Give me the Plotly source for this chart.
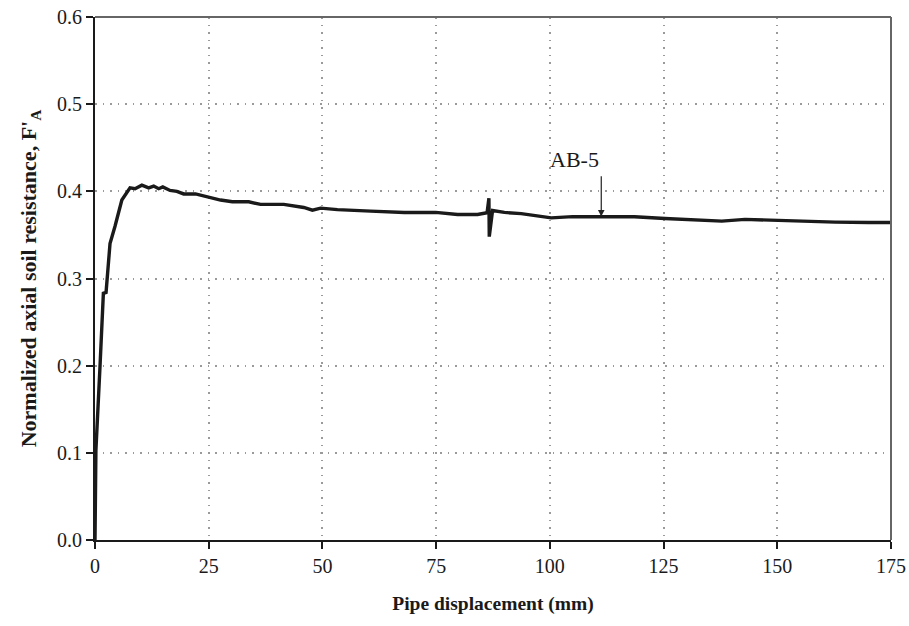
import plotly.graph_objects as go

# Load-displacement record for test AB-5
displacement_mm = [
    0.0, 0.2, 1.1, 1.84, 2.43, 3.3, 4.4, 5.9, 7.7, 8.8, 10.3, 11.8, 12.9, 14.0,
    14.9, 16.5, 18.0, 19.5, 22.1, 25.0, 27.6, 30.2, 33.8, 36.4, 38.6, 41.5,
    45.9, 47.8, 49.6, 53.3, 60.6, 68.0, 74.9, 79.7, 84.1, 86.2, 86.6, 86.68,
    87.4, 90.0, 93.7, 97.0, 100.3, 105.0, 111.3, 118.6, 125.3, 133.3, 137.8,
    142.9, 150.2, 155.4, 162.7, 170.1, 175.0,
]
normalized_resistance = [
    0.0, 0.103, 0.199, 0.283, 0.284, 0.340, 0.360, 0.390, 0.404, 0.403, 0.407,
    0.404, 0.406, 0.403, 0.405, 0.401, 0.400, 0.397, 0.397, 0.393, 0.390,
    0.388, 0.388, 0.385, 0.385, 0.385, 0.3815, 0.3784, 0.3807, 0.379, 0.3773,
    0.3758, 0.3758, 0.3735, 0.3735, 0.3754, 0.392, 0.348, 0.378, 0.3758,
    0.3744, 0.372, 0.3696, 0.371, 0.3708, 0.3708, 0.3689, 0.367, 0.3658,
    0.3678, 0.3666, 0.366, 0.3647, 0.3643, 0.3643,
]

x_ticks = [0, 25, 50, 75, 100, 125, 150, 175]
y_ticks = [0.0, 0.1, 0.2, 0.3, 0.4, 0.5, 0.6]

series_label = "AB-5"
label_x, label_y = 105.4, 0.437
arrow_tip = (111.3, 0.371)
arrow_tail = (111.3, 0.419)

serif = "Liberation Serif, Times New Roman, serif"

fig = go.Figure()
fig.add_trace(go.Scatter(
    x=displacement_mm, y=normalized_resistance, mode="lines",
    line=dict(color="#1a1a1a", width=3.4, shape="linear"),
    showlegend=False, hoverinfo="skip",
))

# arrow pointing at the curve
fig.add_annotation(
    x=arrow_tip[0], y=arrow_tip[1], ax=arrow_tail[0], ay=arrow_tail[1],
    xref="x", yref="y", axref="x", ayref="y", text="",
    showarrow=True, arrowhead=2, arrowsize=1.1, arrowwidth=1.2,
    arrowcolor="#222222", standoff=0,
)
fig.add_annotation(
    x=label_x, y=label_y, xref="x", yref="y", text=series_label,
    showarrow=False, font=dict(family=serif, size=22, color="#1a1a1a"),
)

# top and right frame lines in grey
fig.add_shape(type="line", xref="paper", yref="paper", x0=0, x1=1, y0=1, y1=1,
              line=dict(color="#666666", width=2))
fig.add_shape(type="line", xref="paper", yref="paper", x0=1, x1=1, y0=0, y1=1,
              line=dict(color="#666666", width=2))

axis_common = dict(
    showgrid=True, gridcolor="#9a9a9a", gridwidth=1.5, griddash="1.5px,6px",
    zeroline=False, showline=True, linecolor="#1a1a1a", linewidth=2,
    ticks="outside", ticklen=7, tickwidth=2, tickcolor="#1a1a1a",
    tickfont=dict(family=serif, size=20, color="#1a1a1a"),
    automargin=False,
)

fig.update_xaxes(
    range=[0, 175], tickvals=x_ticks, ticktext=[str(v) for v in x_ticks],
    title=dict(text="<b>Pipe displacement (mm)</b>", standoff=20,
               font=dict(family=serif, size=19.5, color="#1a1a1a")),
    **axis_common,
)
fig.update_yaxes(
    range=[0, 0.6], tickvals=y_ticks, ticktext=[f"{v:.1f}" for v in y_ticks],
    title=dict(text="<b>Normalized axial soil resistance, F'<sub>A</sub></b>",
               standoff=14, font=dict(family=serif, size=22, color="#1a1a1a")),
    **axis_common,
)

fig.update_layout(
    width=909, height=626,
    margin=dict(l=95, r=18, t=17, b=86),
    plot_bgcolor="white", paper_bgcolor="white",
    font=dict(family=serif, color="#1a1a1a"),
)

fig.write_html("out.html")
